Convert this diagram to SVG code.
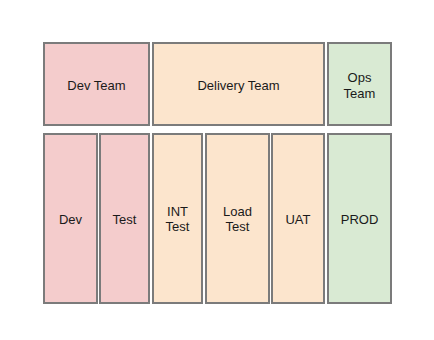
<svg xmlns="http://www.w3.org/2000/svg" width="434" height="340" viewBox="0 0 434 340">
<style>
rect{stroke:#7b7b7b;stroke-width:2}
.dev{fill:#f4cccc}
.del{fill:#fce5cd}
.ops{fill:#d9ead3}
text{font-family:"Liberation Sans",Arial,sans-serif;font-size:13px;fill:#1a1a1a;text-anchor:middle}
</style>
<rect x="0" y="0" width="434" height="340" fill="#ffffff" style="stroke:none"/>
<g id="dev-team"><rect class="dev" x="44" y="43" width="105" height="82"/><text x="96.5" y="89.7">Dev Team</text></g>
<g id="delivery-team"><rect class="del" x="153" y="43" width="171" height="82"/><text x="238.5" y="89.7">Delivery Team</text></g>
<g id="ops-team"><rect class="ops" x="328" y="43" width="63" height="82"/><text x="359.5" y="82.3">Ops</text><text x="359.5" y="98">Team</text></g>
<g id="dev"><rect class="dev" x="44" y="134" width="53" height="169"/><text x="70.5" y="223.7">Dev</text></g>
<g id="test"><rect class="dev" x="100" y="134" width="49" height="169"/><text x="124.5" y="223.7">Test</text></g>
<g id="int-test"><rect class="del" x="153" y="134" width="49" height="169"/><text x="177.5" y="216.3">INT</text><text x="177.5" y="231.3">Test</text></g>
<g id="load-test"><rect class="del" x="206" y="134" width="63" height="169"/><text x="237.5" y="216.3">Load</text><text x="237.5" y="231.3">Test</text></g>
<g id="uat"><rect class="del" x="272" y="134" width="52" height="169"/><text x="298" y="223.7">UAT</text></g>
<g id="prod"><rect class="ops" x="328" y="134" width="63" height="169"/><text x="359.5" y="223.7">PROD</text></g>
<g id="connectors"></g>
</svg>
